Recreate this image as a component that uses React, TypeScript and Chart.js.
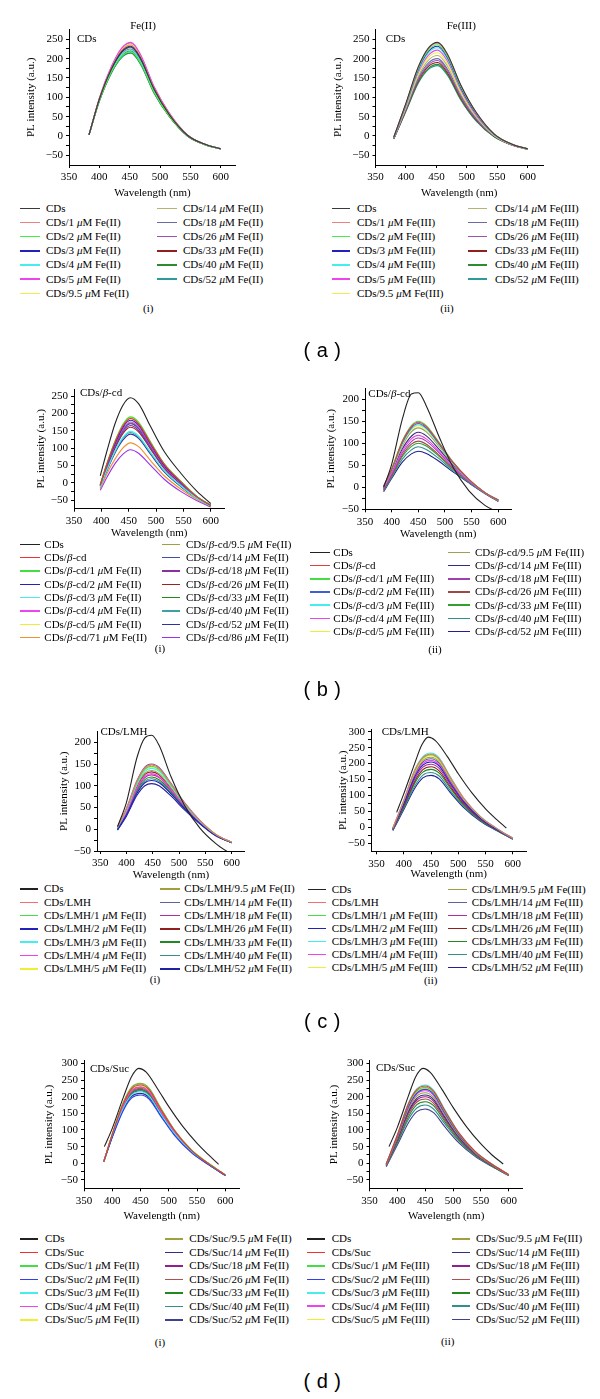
import React, { useEffect, useRef } from 'react';
import { Chart, registerables } from 'chart.js';

Chart.register(...registerables);

const SERIF = '"Liberation Serif", "Times New Roman", serif';
const SANS = '"Liberation Sans", Arial, sans-serif';

const X_TITLE = 'Wavelength (nm)';
const Y_TITLE = 'PL intensity (a.u.)';
const X_TICKS = [350, 400, 450, 500, 550, 600];
const Y_TICKS_250 = [-50, 0, 50, 100, 150, 200, 250];
const Y_TICKS_200 = [-50, 0, 50, 100, 150, 200];
const Y_TICKS_300 = [-50, 0, 50, 100, 150, 200, 250, 300];

// ---------- (a)(i) Fe(II) ----------
const A1_XS = [383, 400, 420, 437, 452, 468, 490, 515, 545, 575, 600];
const A1_LABELS = ['CDs', 'CDs/1 μM Fe(II)', 'CDs/2 μM Fe(II)', 'CDs/3 μM Fe(II)', 'CDs/4 μM Fe(II)', 'CDs/5 μM Fe(II)', 'CDs/9.5 μM Fe(II)', 'CDs/14 μM Fe(II)', 'CDs/18 μM Fe(II)', 'CDs/26 μM Fe(II)', 'CDs/33 μM Fe(II)', 'CDs/40 μM Fe(II)', 'CDs/52 μM Fe(II)'];
const A1_VALUES = [
  [3, 95, 174, 219, 232, 201, 122, 56, 2, -22, -33],
  [3, 96, 176, 222, 235, 204, 124, 58, 2, -22, -33],
  [3, 91, 166, 206, 218, 188, 114, 52, 1, -23, -33],
  [3, 94, 173, 217, 230, 199, 121, 56, 2, -22, -33],
  [3, 92, 168, 210, 222, 192, 116, 53, 1, -23, -33],
  [3, 98, 180, 228, 242, 210, 128, 60, 3, -22, -33],
  [3, 97, 178, 224, 238, 206, 126, 59, 3, -22, -33],
  [3, 94, 172, 215, 228, 197, 120, 55, 2, -22, -33],
  [3, 93, 170, 213, 225, 195, 118, 54, 1, -23, -33],
  [3, 97, 179, 226, 240, 208, 127, 59, 3, -22, -33],
  [3, 91, 167, 208, 220, 190, 115, 52, 1, -23, -33],
  [3, 90, 164, 204, 215, 186, 112, 51, 0, -23, -33],
  [3, 90, 163, 203, 214, 185, 111, 51, 0, -23, -34],
];

// ---------- (a)(ii) Fe(III) ----------
const A2_XS = [380, 400, 420, 437, 452, 468, 490, 515, 545, 575, 600];
const A2_LABELS = ['CDs', 'CDs/1 μM Fe(III)', 'CDs/2 μM Fe(III)', 'CDs/3 μM Fe(III)', 'CDs/4 μM Fe(III)', 'CDs/5 μM Fe(III)', 'CDs/9.5 μM Fe(III)', 'CDs/14 μM Fe(III)', 'CDs/18 μM Fe(III)', 'CDs/26 μM Fe(III)', 'CDs/33 μM Fe(III)', 'CDs/40 μM Fe(III)', 'CDs/52 μM Fe(III)'];
const A2_VALUES = [
  [-3, 85, 178, 228, 242, 212, 132, 62, 5, -22, -33],
  [-3, 84, 177, 226, 240, 210, 131, 61, 5, -22, -33],
  [-4, 83, 174, 222, 236, 206, 128, 60, 4, -22, -33],
  [-4, 82, 171, 219, 232, 203, 125, 58, 4, -22, -33],
  [-4, 80, 168, 215, 228, 199, 123, 57, 3, -22, -33],
  [-5, 78, 164, 209, 222, 194, 119, 54, 3, -23, -33],
  [-5, 76, 159, 203, 215, 187, 114, 52, 2, -23, -33],
  [-6, 73, 154, 196, 208, 181, 110, 49, 1, -23, -34],
  [-6, 70, 149, 189, 200, 173, 105, 46, 0, -23, -34],
  [-7, 69, 145, 184, 195, 169, 101, 44, 0, -23, -34],
  [-7, 67, 142, 180, 190, 164, 98, 42, -1, -24, -34],
  [-7, 65, 138, 175, 185, 160, 95, 40, -2, -24, -34],
  [-8, 64, 136, 172, 182, 157, 93, 39, -2, -24, -35],
];
const A_COLORS = ['#3a3a3a', '#f08080', '#44ee44', '#2222bb', '#44eeee', '#ee44ee', '#eeee44', '#b4b470', '#6a6aa8', '#a050b0', '#902020', '#2e8b2e', '#2e9a9a'];

// ---------- (b)(i) CDs/β-cd + Fe(II) ----------
const B1_XS = [398, 410, 425, 440, 453, 468, 490, 515, 545, 575, 600];
const B1_LABELS = ['CDs', 'CDs/β-cd', 'CDs/β-cd/1 μM Fe(II)', 'CDs/β-cd/2 μM Fe(II)', 'CDs/β-cd/3 μM Fe(II)', 'CDs/β-cd/4 μM Fe(II)', 'CDs/β-cd/5 μM Fe(II)', 'CDs/β-cd/71 μM Fe(II)', 'CDs/β-cd/9.5 μM Fe(II)', 'CDs/β-cd/14 μM Fe(II)', 'CDs/β-cd/18 μM Fe(II)', 'CDs/β-cd/26 μM Fe(II)', 'CDs/β-cd/33 μM Fe(II)', 'CDs/β-cd/40 μM Fe(II)', 'CDs/β-cd/52 μM Fe(II)', 'CDs/β-cd/86 μM Fe(II)'];
const B1_VALUES = [
  [20, 90, 170, 225, 245, 228, 162, 90, 28, -25, -60],
  [-6, 53, 117, 165, 185, 170, 114, 53, 3, -41, -65],
  [-5, 55, 120, 170, 190, 175, 118, 55, 5, -40, -65],
  [-7, 51, 113, 161, 180, 166, 111, 50, 2, -41, -66],
  [-13, 37, 91, 132, 148, 135, 88, 35, -8, -45, -67],
  [-8, 49, 110, 156, 175, 161, 107, 48, 0, -42, -66],
  [-5, 54, 119, 168, 188, 173, 117, 54, 4, -40, -65],
  [-18, 25, 68, 101, 115, 104, 64, 20, -18, -48, -68],
  [-6, 53, 118, 166, 186, 171, 115, 53, 3, -41, -65],
  [-9, 47, 106, 152, 170, 156, 104, 46, -1, -43, -66],
  [-9, 44, 103, 147, 165, 151, 100, 43, -3, -43, -66],
  [-10, 42, 99, 143, 160, 147, 97, 41, -4, -44, -67],
  [-8, 48, 108, 154, 172, 158, 105, 47, -1, -42, -66],
  [-13, 36, 89, 129, 145, 132, 86, 34, -9, -46, -67],
  [-14, 34, 86, 124, 140, 128, 82, 31, -11, -46, -68],
  [-22, 15, 55, 83, 95, 85, 50, 10, -25, -52, -70],
];
const B1_COLORS = ['#222222', '#ee3333', '#44dd44', '#2222bb', '#44eeee', '#ee44ee', '#eeee33', '#f09030', '#a0a040', '#4050a0', '#8a30a0', '#a02020', '#228822', '#40a0a0', '#3030a0', '#9a30f0'];

// ---------- (b)(ii) CDs/β-cd + Fe(III) ----------
const B2_XS = [385, 400, 420, 437, 450, 465, 490, 515, 545, 575, 600];
const B2_LABELS = ['CDs', 'CDs/β-cd', 'CDs/β-cd/1 μM Fe(III)', 'CDs/β-cd/2 μM Fe(III)', 'CDs/β-cd/3 μM Fe(III)', 'CDs/β-cd/4 μM Fe(III)', 'CDs/β-cd/5 μM Fe(III)', 'CDs/β-cd/9.5 μM Fe(III)', 'CDs/β-cd/14 μM Fe(III)', 'CDs/β-cd/18 μM Fe(III)', 'CDs/β-cd/26 μM Fe(III)', 'CDs/β-cd/33 μM Fe(III)', 'CDs/β-cd/40 μM Fe(III)', 'CDs/β-cd/52 μM Fe(III)'];
const B2_VALUES = [
  [0, 52, 155, 212, 215, 185, 112, 46, -8, -41, -57],
  [3, 41, 104, 138, 148, 138, 99, 57, 18, -12, -29],
  [3, 42, 105, 140, 150, 140, 100, 58, 18, -12, -29],
  [2, 40, 101, 135, 145, 135, 97, 56, 17, -12, -29],
  [1, 39, 99, 132, 142, 133, 95, 55, 17, -12, -29],
  [-3, 32, 82, 110, 118, 110, 80, 47, 14, -13, -30],
  [1, 39, 98, 131, 140, 131, 94, 55, 17, -12, -29],
  [0, 37, 94, 126, 135, 126, 91, 53, 16, -12, -30],
  [-2, 34, 87, 116, 125, 117, 85, 50, 15, -13, -30],
  [-4, 30, 78, 104, 112, 105, 77, 45, 14, -13, -31],
  [-6, 27, 73, 98, 105, 98, 72, 43, 13, -13, -31],
  [-7, 26, 70, 93, 100, 94, 69, 41, 12, -13, -31],
  [-8, 23, 64, 85, 92, 86, 64, 38, 11, -14, -32],
  [-10, 20, 57, 76, 82, 77, 58, 35, 10, -14, -32],
];
const B2_COLORS = ['#222222', '#e04040', '#44dd44', '#4060d0', '#44eeee', '#ee44ee', '#eeee33', '#a0a050', '#303080', '#a040b0', '#a04848', '#30a030', '#309090', '#202090'];

// ---------- (c)(i) CDs/LMH + Fe(II) ----------
const C1_XS = [383, 400, 420, 435, 448, 462, 485, 510, 540, 570, 600];
const C1_LABELS = ['CDs', 'CDs/LMH', 'CDs/LMH/1 μM Fe(II)', 'CDs/LMH/2 μM Fe(II)', 'CDs/LMH/3 μM Fe(II)', 'CDs/LMH/4 μM Fe(II)', 'CDs/LMH/5 μM Fe(II)', 'CDs/LMH/9.5 μM Fe(II)', 'CDs/LMH/14 μM Fe(II)', 'CDs/LMH/18 μM Fe(II)', 'CDs/LMH/26 μM Fe(II)', 'CDs/LMH/33 μM Fe(II)', 'CDs/LMH/40 μM Fe(II)', 'CDs/LMH/52 μM Fe(II)'];
const C1_VALUES = [
  [6, 62, 165, 210, 216, 193, 120, 56, 2, -33, -58],
  [5, 47, 111, 141, 148, 140, 104, 61, 20, -12, -30],
  [4, 46, 108, 138, 145, 137, 102, 60, 19, -12, -30],
  [-1, 33, 83, 107, 112, 107, 81, 48, 13, -15, -31],
  [3, 44, 104, 133, 140, 133, 99, 58, 18, -13, -30],
  [2, 39, 95, 122, 128, 121, 91, 54, 16, -13, -30],
  [4, 45, 107, 136, 143, 135, 100, 59, 19, -12, -30],
  [3, 42, 101, 129, 135, 128, 95, 56, 17, -13, -30],
  [5, 48, 112, 143, 150, 142, 105, 62, 20, -12, -30],
  [1, 38, 93, 119, 125, 119, 89, 53, 16, -14, -31],
  [2, 41, 98, 126, 132, 125, 93, 55, 17, -13, -30],
  [0, 36, 89, 114, 120, 114, 86, 51, 15, -14, -31],
  [0, 34, 86, 110, 116, 110, 83, 49, 14, -14, -31],
  [-2, 30, 78, 100, 105, 100, 76, 45, 12, -15, -31],
];

// ---------- (c)(ii) CDs/LMH + Fe(III) ----------
const C2_XS = [380, 400, 420, 435, 450, 465, 485, 510, 540, 570, 600];
const C2_CDS_XS = [387, 400, 420, 433, 445, 458, 480, 500, 525, 550, 570, 588];
const C2_LABELS = ['CDs', 'CDs/LMH', 'CDs/LMH/1 μM Fe(III)', 'CDs/LMH/2 μM Fe(III)', 'CDs/LMH/3 μM Fe(III)', 'CDs/LMH/4 μM Fe(III)', 'CDs/LMH/5 μM Fe(III)', 'CDs/LMH/9.5 μM Fe(III)', 'CDs/LMH/14 μM Fe(III)', 'CDs/LMH/18 μM Fe(III)', 'CDs/LMH/26 μM Fe(III)', 'CDs/LMH/33 μM Fe(III)', 'CDs/LMH/40 μM Fe(III)', 'CDs/LMH/52 μM Fe(III)'];
const C2_VALUES = [
  [47, 105, 200, 258, 283, 272, 222, 168, 108, 58, 25, -2],
  [-2, 84, 178, 219, 230, 215, 158, 91, 34, -3, -34],
  [-3, 83, 176, 217, 228, 213, 156, 90, 34, -3, -34],
  [-5, 73, 157, 195, 205, 192, 140, 80, 29, -6, -35],
  [-2, 85, 180, 222, 233, 218, 160, 92, 35, -3, -34],
  [-5, 75, 161, 200, 210, 196, 144, 82, 30, -5, -35],
  [-3, 82, 173, 214, 225, 210, 154, 89, 33, -4, -34],
  [-3, 79, 169, 210, 220, 206, 151, 86, 32, -4, -35],
  [-4, 77, 165, 205, 215, 201, 147, 84, 31, -5, -35],
  [-6, 70, 151, 189, 198, 185, 135, 77, 28, -6, -36],
  [-7, 67, 144, 181, 190, 177, 129, 74, 26, -7, -36],
  [-8, 63, 138, 173, 182, 170, 124, 70, 24, -8, -36],
  [-9, 59, 129, 164, 172, 161, 116, 66, 22, -9, -37],
  [-10, 55, 122, 155, 163, 152, 110, 62, 20, -10, -37],
];
const C_COLORS = ['#222222', '#f07070', '#44dd44', '#2222bb', '#44eeee', '#ee44ee', '#eeee33', '#a0a040', '#6060a0', '#b030a0', '#902020', '#228822', '#309090', '#2020a0'];

// ---------- (d)(i) CDs/Suc + Fe(II) ----------
const D1_XS = [385, 400, 420, 435, 450, 465, 485, 510, 540, 570, 600];
const D1_CDS_XS = [386, 400, 420, 434, 447, 460, 480, 500, 525, 550, 570, 588];
const D1_LABELS = ['CDs', 'CDs/Suc', 'CDs/Suc/1 μM Fe(II)', 'CDs/Suc/2 μM Fe(II)', 'CDs/Suc/3 μM Fe(II)', 'CDs/Suc/4 μM Fe(II)', 'CDs/Suc/5 μM Fe(II)', 'CDs/Suc/9.5 μM Fe(II)', 'CDs/Suc/14 μM Fe(II)', 'CDs/Suc/18 μM Fe(II)', 'CDs/Suc/26 μM Fe(II)', 'CDs/Suc/33 μM Fe(II)', 'CDs/Suc/40 μM Fe(II)', 'CDs/Suc/52 μM Fe(II)'];
const D1_VALUES = [
  [50, 105, 200, 260, 285, 274, 224, 170, 110, 60, 26, -3],
  [5, 87, 181, 225, 235, 221, 164, 98, 39, -1, -35],
  [5, 87, 184, 228, 238, 224, 167, 99, 40, 0, -35],
  [5, 78, 160, 197, 205, 193, 143, 84, 32, -4, -37],
  [5, 81, 167, 206, 215, 202, 150, 89, 34, -3, -36],
  [5, 85, 176, 219, 228, 215, 159, 94, 37, -1, -36],
  [5, 86, 179, 222, 232, 218, 162, 96, 38, -1, -35],
  [5, 88, 185, 230, 240, 226, 168, 100, 40, 0, -35],
  [5, 79, 164, 202, 210, 198, 147, 86, 33, -3, -37],
  [5, 85, 178, 221, 230, 217, 161, 95, 38, -1, -36],
  [5, 84, 174, 216, 225, 212, 157, 93, 37, -2, -36],
  [5, 83, 172, 213, 222, 209, 155, 92, 36, -2, -36],
  [5, 82, 171, 211, 220, 207, 154, 91, 35, -2, -36],
  [5, 82, 169, 209, 218, 205, 152, 90, 35, -3, -36],
];

// ---------- (d)(ii) CDs/Suc + Fe(III) ----------
const D2_XS = [380, 400, 420, 435, 450, 465, 485, 510, 540, 570, 600];
const D2_CDS_XS = [385, 400, 420, 433, 446, 459, 480, 500, 525, 550, 570, 590];
const D2_LABELS = ['CDs', 'CDs/Suc', 'CDs/Suc/1 μM Fe(III)', 'CDs/Suc/2 μM Fe(III)', 'CDs/Suc/3 μM Fe(III)', 'CDs/Suc/4 μM Fe(III)', 'CDs/Suc/5 μM Fe(III)', 'CDs/Suc/9.5 μM Fe(III)', 'CDs/Suc/14 μM Fe(III)', 'CDs/Suc/18 μM Fe(III)', 'CDs/Suc/26 μM Fe(III)', 'CDs/Suc/33 μM Fe(III)', 'CDs/Suc/40 μM Fe(III)', 'CDs/Suc/52 μM Fe(III)'];
const D2_VALUES = [
  [50, 108, 203, 260, 285, 273, 222, 168, 108, 58, 25, -2],
  [-2, 85, 179, 221, 232, 217, 159, 92, 35, -3, -34],
  [-3, 83, 176, 217, 228, 213, 156, 90, 34, -3, -34],
  [-3, 80, 171, 211, 222, 208, 152, 87, 33, -4, -34],
  [-2, 86, 182, 224, 235, 220, 162, 93, 35, -3, -34],
  [-4, 79, 168, 208, 218, 204, 149, 86, 32, -4, -35],
  [-3, 82, 173, 214, 225, 210, 154, 89, 33, -4, -34],
  [-4, 76, 163, 202, 212, 198, 145, 83, 31, -5, -35],
  [-5, 73, 157, 195, 205, 192, 140, 80, 29, -6, -35],
  [-6, 71, 153, 190, 200, 187, 136, 78, 28, -6, -35],
  [-7, 68, 147, 184, 193, 180, 131, 75, 26, -7, -36],
  [-7, 64, 140, 176, 185, 173, 126, 71, 25, -8, -36],
  [-9, 60, 132, 166, 175, 163, 119, 67, 23, -9, -36],
  [-10, 55, 122, 155, 163, 152, 110, 62, 20, -10, -37],
];
const D_COLORS = ['#222222', '#f03030', '#44dd44', '#3040f0', '#44eeee', '#ee44ee', '#eeee33', '#a0a040', '#303080', '#902090', '#b05050', '#228822', '#309090', '#404090'];

type Panel = {
  xs: number[];
  cdsXs?: number[];
  values: number[][];
  colors: string[];
  labels: string[];
  xMin: number; xMax: number; yMin: number; yMax: number; yTicks: number[];
  plotL: number; plotR: number; plotT: number; plotB: number;
  yTitleX: number; xTitleY: number;
  note: { text: string; x: number; y: number };
  title?: { text: string; x: number; y: number };
  legend: { y0: number; dy: number; nLeft: number; cols: number[][] };
  caption: { text: string; x: number; y: number };
};

const PANELS: Panel[] = [
  {
    xs: A1_XS, values: A1_VALUES, colors: A_COLORS, labels: A1_LABELS,
    xMin: 350, xMax: 625, yMin: -75, yMax: 275, yTicks: Y_TICKS_250,
    plotL: 69, plotR: 235.9, plotT: 29.6, plotB: 165, yTitleX: 32, xTitleY: 193,
    note: { text: 'CDs', x: 77, y: 39 }, title: { text: 'Fe(II)', x: 143, y: 26 },
    legend: { y0: 208.3, dy: 14.17, nLeft: 7, cols: [[20, 40, 46], [157, 177, 183]] },
    caption: { text: '(i)', x: 148.3, y: 308.3 },
  },
  {
    xs: A2_XS, values: A2_VALUES, colors: A_COLORS, labels: A2_LABELS,
    xMin: 350, xMax: 625, yMin: -75, yMax: 275, yTicks: Y_TICKS_250,
    plotL: 375.5, plotR: 543, plotT: 29.6, plotB: 165, yTitleX: 339, xTitleY: 193,
    note: { text: 'CDs', x: 385.7, y: 39 }, title: { text: 'Fe(III)', x: 461.3, y: 26 },
    legend: { y0: 208.3, dy: 14.17, nLeft: 7, cols: [[331.7, 350, 357], [468, 486.7, 495]] },
    caption: { text: '(ii)', x: 447, y: 308.3 },
  },
  {
    xs: B1_XS, values: B1_VALUES, colors: B1_COLORS, labels: B1_LABELS,
    xMin: 350, xMax: 625, yMin: -75, yMax: 270, yTicks: Y_TICKS_250,
    plotL: 74, plotR: 224.4, plotT: 389.1, plotB: 508.7, yTitleX: 41.7, xTitleY: 533.3,
    note: { text: 'CDs/β-cd', x: 80, y: 392.3 },
    legend: { y0: 544.3, dy: 13.34, nLeft: 8, cols: [[20, 40, 44.3], [161.7, 180, 186]] },
    caption: { text: '(i)', x: 160, y: 648.7 },
  },
  {
    xs: B2_XS, values: B2_VALUES, colors: B2_COLORS, labels: B2_LABELS,
    xMin: 350, xMax: 625, yMin: -50, yMax: 225, yTicks: Y_TICKS_200,
    plotL: 365, plotR: 511.6, plotT: 388.3, plotB: 509.3, yTitleX: 331.7, xTitleY: 534,
    note: { text: 'CDs/β-cd', x: 368.3, y: 393.3 },
    legend: { y0: 552.3, dy: 13.23, nLeft: 7, cols: [[310, 330, 333.3], [448.3, 470, 475]] },
    caption: { text: '(ii)', x: 435, y: 649.3 },
  },
  {
    xs: C1_XS, values: C1_VALUES, colors: C_COLORS, labels: C1_LABELS,
    xMin: 344, xMax: 625, yMin: -50, yMax: 225, yTicks: Y_TICKS_200,
    plotL: 97, plotR: 244.8, plotT: 731.4, plotB: 851, yTitleX: 65, xTitleY: 875,
    note: { text: 'CDs/LMH', x: 100.5, y: 731.5 },
    legend: { y0: 889, dy: 13.3, nLeft: 7, cols: [[20, 38.3, 44], [160, 180, 184.3]] },
    caption: { text: '(i)', x: 155, y: 980 },
  },
  {
    xs: C2_XS, cdsXs: C2_CDS_XS, values: C2_VALUES, colors: C_COLORS, labels: C2_LABELS,
    xMin: 340, xMax: 625, yMin: -75, yMax: 307.5, yTicks: Y_TICKS_300,
    plotL: 371, plotR: 526.5, plotT: 729.3, plotB: 851.3, yTitleX: 343.3, xTitleY: 874.3,
    note: { text: 'CDs/LMH', x: 381.7, y: 731.7 },
    legend: { y0: 889.3, dy: 13.07, nLeft: 7, cols: [[308.3, 326, 331.7], [448.3, 466.7, 471.7]] },
    caption: { text: '(ii)', x: 430.7, y: 980.7 },
  },
  {
    xs: D1_XS, cdsXs: D1_CDS_XS, values: D1_VALUES, colors: D_COLORS, labels: D1_LABELS,
    xMin: 350, xMax: 625, yMin: -75, yMax: 308, yTicks: Y_TICKS_300,
    plotL: 84, plotR: 239.5, plotT: 1060.7, plotB: 1188.3, yTitleX: 50, xTitleY: 1216.7,
    note: { text: 'CDs/Suc', x: 90, y: 1068.3 },
    legend: { y0: 1239, dy: 13.5, nLeft: 7, cols: [[20, 38.3, 45], [165, 183.3, 189.3]] },
    caption: { text: '(i)', x: 160, y: 1342.7 },
  },
  {
    xs: D2_XS, cdsXs: D2_CDS_XS, values: D2_VALUES, colors: D_COLORS, labels: D2_LABELS,
    xMin: 350, xMax: 625, yMin: -75, yMax: 308, yTicks: Y_TICKS_300,
    plotL: 369.5, plotR: 522.7, plotT: 1060.7, plotB: 1188.3, yTitleX: 335, xTitleY: 1216.7,
    note: { text: 'CDs/Suc', x: 376, y: 1068 },
    legend: { y0: 1239, dy: 13.44, nLeft: 7, cols: [[306.7, 325, 331.7], [451.7, 470, 476]] },
    caption: { text: '(ii)', x: 447.7, y: 1341.7 },
  },
];

const PANEL_LETTERS = [
  { text: '( a )', y: 352 },
  { text: '( b )', y: 691 },
  { text: '( c )', y: 1022.5 },
  { text: '( d )', y: 1382.5 },
];

const FONT = { family: SERIF, size: 11 };

function fmt(v: number): string {
  return v < 0 ? '\u2212' + Math.abs(v) : String(v);
}

function geom(p: Panel) {
  const left = Math.round(p.yTitleX - 6.6);
  const top = Math.round(p.plotT - 14);
  const bottom = Math.round(p.xTitleY + 6.6);
  const right = Math.round(p.plotR + 14);
  return {
    left, top, w: right - left, h: bottom - top,
    yAxisW: p.plotL - left, xAxisH: bottom - p.plotB,
    padTop: p.plotT - top, padRight: right - p.plotR,
  };
}

function PanelChart({ p }: { p: Panel }) {
  const ref = useRef<HTMLCanvasElement | null>(null);
  const g = geom(p);
  useEffect(() => {
    if (!ref.current) return;
    const majors = p.yTicks;
    const minors = majors.slice(1).map((v, i) => (v + majors[i]) / 2);
    const datasets = p.values.map((ys, i) => {
      const xs = i === 0 && p.cdsXs ? p.cdsXs : p.xs;
      return {
        label: p.labels[i],
        data: xs.map((x, k) => ({ x, y: ys[k] })),
        borderColor: p.colors[i],
        backgroundColor: p.colors[i],
        borderWidth: 1.1,
        pointRadius: 0,
        fill: false,
        cubicInterpolationMode: 'monotone' as const,
      };
    });
    const chart = new Chart(ref.current, {
      type: 'line',
      data: { datasets },
      options: {
        animation: false,
        responsive: false,
        maintainAspectRatio: false,
        events: [],
        layout: { padding: { top: g.padTop, right: g.padRight, left: 0, bottom: 0 } },
        plugins: { legend: { display: false }, tooltip: { enabled: false }, title: { display: false } },
        scales: {
          x: {
            type: 'linear',
            min: p.xMin,
            max: p.xMax,
            grid: { display: true, drawOnChartArea: false, drawTicks: true, tickLength: 3, color: '#000', tickColor: '#000', lineWidth: 1 },
            border: { display: true, color: '#000', width: 1 },
            ticks: { font: FONT, color: '#000', padding: 3, maxRotation: 0, minRotation: 0, autoSkip: false, callback: (v: any) => fmt(Number(v)) },
            afterBuildTicks: (s: any) => { s.ticks = X_TICKS.map((v) => ({ value: v })); },
            afterFit: (s: any) => { s.height = g.xAxisH; },
            title: { display: true, text: X_TITLE, font: FONT, color: '#000', padding: 0 },
          },
          y: {
            type: 'linear',
            position: 'left',
            min: p.yMin,
            max: p.yMax,
            grid: { display: true, drawOnChartArea: false, drawTicks: true, tickLength: 3, color: '#000', tickColor: '#000', lineWidth: 1 },
            border: { display: true, color: '#000', width: 1 },
            ticks: { font: FONT, color: '#000', padding: 3, autoSkip: false, callback: (v: any) => (majors.includes(Number(v)) ? fmt(Number(v)) : '') },
            afterBuildTicks: (s: any) => {
              s.ticks = [...majors, ...minors].sort((a, b) => a - b).map((v) => ({ value: v }));
            },
            afterFit: (s: any) => { s.width = g.yAxisW; },
            title: { display: true, text: Y_TITLE, font: FONT, color: '#000', padding: 0 },
          },
        },
      },
    } as any);
    return () => chart.destroy();
  }, []);
  return (
    <canvas
      ref={ref}
      width={g.w}
      height={g.h}
      style={{ position: 'absolute', left: g.left, top: g.top, width: g.w, height: g.h }}
    />
  );
}

function rich(s: string) {
  return s.split(/([μβ])/).map((part, i) =>
    part === 'μ' || part === 'β' ? <i key={i}>{part}</i> : <span key={i}>{part}</span>
  );
}

function Txt({ x, y, size = 11, family = SERIF, center = false, spacing = 0, children }: any) {
  const k = family === SANS ? 0.5865 : 0.5065;
  const style: React.CSSProperties = {
    position: 'absolute',
    left: x,
    top: y - k * size,
    fontFamily: family,
    fontSize: size,
    lineHeight: `${size}px`,
    whiteSpace: 'nowrap',
    color: '#000',
    letterSpacing: spacing,
    transform: center ? 'translateX(-50%)' : undefined,
  };
  return <div style={style}>{children}</div>;
}

function Legend({ p }: { p: Panel }) {
  const { y0, dy, nLeft, cols } = p.legend;
  return (
    <>
      {p.labels.map((lab, i) => {
        const col = i < nLeft ? 0 : 1;
        const row = i < nLeft ? i : i - nLeft;
        const y = y0 + row * dy;
        const [x1, x2, tx] = cols[col];
        return (
          <React.Fragment key={i}>
            <div style={{ position: 'absolute', left: x1, top: y - 0.75, width: x2 - x1, height: 1.5, background: p.colors[i] }} />
            <Txt x={tx} y={y}>{rich(lab)}</Txt>
          </React.Fragment>
        );
      })}
    </>
  );
}

export default function App() {
  return (
    <div style={{ position: 'absolute', left: 0, top: 0, width: 600, height: 1399, background: '#fff', overflow: 'hidden' }}>
      {PANELS.map((p, i) => (
        <React.Fragment key={i}>
          <PanelChart p={p} />
          {p.title && <Txt x={p.title.x} y={p.title.y} center>{p.title.text}</Txt>}
          <Txt x={p.note.x} y={p.note.y}>{rich(p.note.text)}</Txt>
          <Legend p={p} />
          <Txt x={p.caption.x} y={p.caption.y} center>{p.caption.text}</Txt>
        </React.Fragment>
      ))}
      {PANEL_LETTERS.map((l, i) => (
        <Txt key={i} x={322.5} y={l.y} size={20} family={SANS} center spacing={0.5}>{l.text}</Txt>
      ))}
    </div>
  );
}
